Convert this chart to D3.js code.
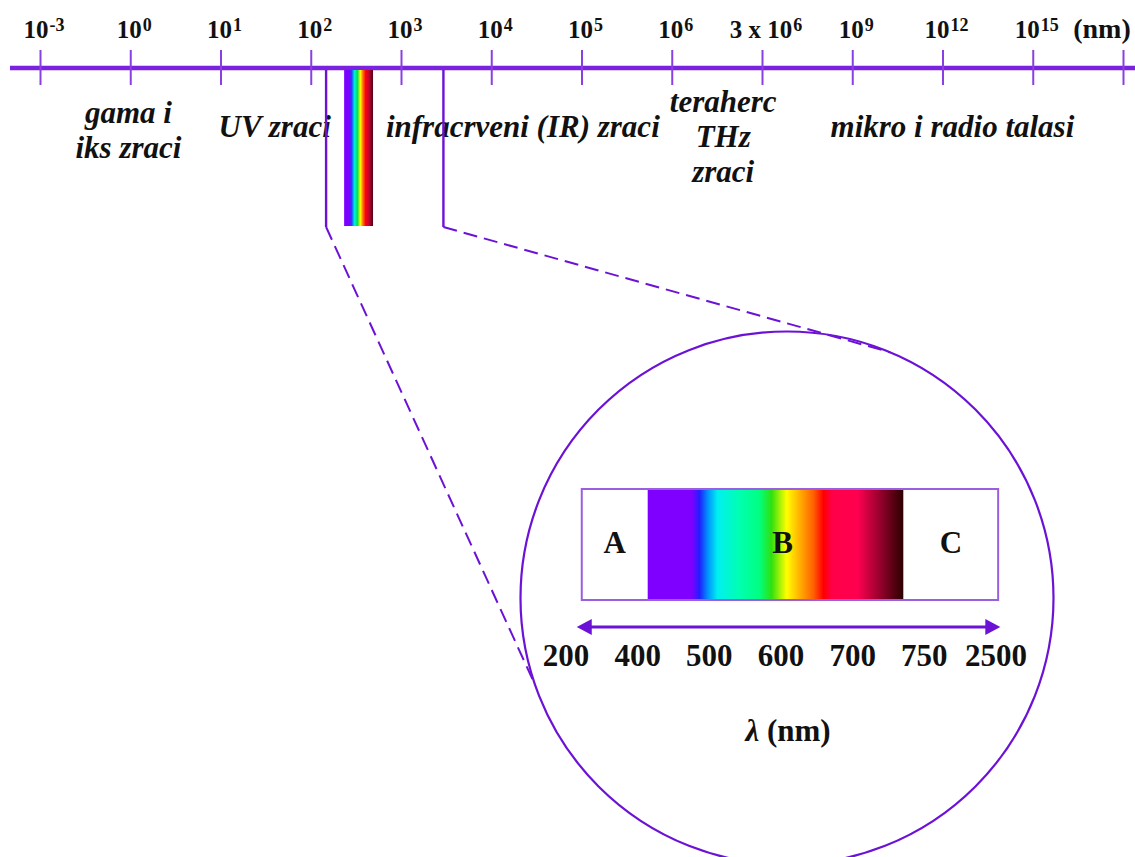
<!DOCTYPE html>
<html><head><meta charset="utf-8">
<script src="https://cdn.jsdelivr.net/npm/d3@7"></script>
<style>body{margin:0;background:#fff}svg{display:block}</style>
</head><body>
<script>
// ---- data ----
const tickBase = ["10","10","10","10","10","10","10","10","3 x 10","10","10","10",""];
const tickExp  = ["-3","0","1","2","3","4","5","6","6","9","12","15",""];
const unitLabel = "(nm)";
const bandNames = [["gama i","iks zraci"],["UV zraci"],["infracrveni (IR) zraci"],["teraherc","THz","zraci"],["mikro i radio talasi"]];
const bandCenters = [0.98, 2.6, 5.35, 7.57, 10.11];       // in tick-index units
const visibleRange = [3.17, 4.47];                          // bracket around the visible strip (tick-index units)
const stripRange = [3.37, 3.69];
const rainbowOffsets = [0, 0.18, 0.26, 0.36, 0.46, 0.56, 0.64, 0.74, 0.86, 1];
const rainbowColors  = ["#7a00ff","#7a00ff","#2040ff","#00f0d8","#00e050","#ffff00","#ff8000","#ff0010","#c00030","#500018"];
const lambdaLabels = ["200","400","500","600","700","750","2500"];
const regionNames = ["A","B","C"];
const regionBounds = [[0.22,1.14],[1.14,4.71],[4.71,6.03]]; // in lambda-label index units
const spectrumOffsets = [0, 0.172, 0.203, 0.234, 0.273, 0.36, 0.437, 0.484, 0.543, 0.594, 0.648, 0.687, 0.719, 0.82, 0.9, 1];
const spectrumColors  = ["#7f00ff","#7f00ff","#2020ff","#0090ff","#00f0f0","#00ffb0","#00ff80","#30e010","#ffff00","#ffb000","#ff6000","#ff0000","#ff0048","#ff0050","#a00030","#2a0000"];
const axisTitle = "(nm)";

// ---- drawing ----
const W = 1135, H = 857;
const purple = "#6c12d6";
const serif = "'Liberation Serif', 'DejaVu Serif', serif";
const svg = d3.select("body").append("svg").attr("width", W).attr("height", H);
const defs = svg.append("defs");

const axisY = 68;
const xTop = d3.scaleLinear().domain([0, 12]).range([40, 1123]);

// main axis line
svg.append("line").attr("x1", 10).attr("x2", W).attr("y1", axisY).attr("y2", axisY)
  .attr("stroke", "#7a22e0").attr("stroke-width", 4.5);

// ticks via d3 axis
const axisG = svg.append("g").attr("transform", `translate(0,${axisY})`)
  .call(d3.axisBottom(xTop).tickValues(d3.range(13)).tickSizeInner(17).tickSizeOuter(0).tickFormat(""));
axisG.select(".domain").remove();
axisG.selectAll(".tick line").attr("y1", -18).attr("y2", 17).attr("stroke", "#8a40e0").attr("stroke-width", 2);

// tick labels with superscripts
const lab = svg.append("g").attr("font-family", serif).attr("font-weight", "bold").attr("fill", "#111");
tickBase.forEach((b, i) => {
  if (!b) return;
  const t = lab.append("text").attr("x", xTop(i) + 4).attr("y", 38).attr("text-anchor", "middle").attr("font-size", 25);
  t.append("tspan").text(b);
  t.append("tspan").attr("font-size", 18).attr("dx", 1).attr("dy", -7).text(tickExp[i]);
});
lab.append("text").attr("x", 1102).attr("y", 38).attr("text-anchor", "middle").attr("font-size", 28).text(unitLabel);

// band names
const bandY = [[123, 158], [137], [137], [112, 147, 182], [137]];
const bl = svg.append("g").attr("font-family", serif).attr("font-weight", "bold").attr("font-style", "italic")
  .attr("font-size", 31).attr("fill", "#111").attr("text-anchor", "middle");
bandNames.forEach((lines, i) => {
  lines.forEach((s, j) => {
    bl.append("text").attr("x", xTop(bandCenters[i])).attr("y", bandY[i][j]).text(s);
  });
});

// rainbow strip
const rg = defs.append("linearGradient").attr("id", "rainbow").attr("x1", "0").attr("x2", "1").attr("y1", "0").attr("y2", "0");
rainbowOffsets.forEach((o, i) => rg.append("stop").attr("offset", o).attr("stop-color", rainbowColors[i]));
svg.append("rect").attr("x", xTop(stripRange[0])).attr("y", axisY + 2)
  .attr("width", xTop(stripRange[1]) - xTop(stripRange[0])).attr("height", 156)
  .attr("fill", "url(#rainbow)");

// circle (zoom)
const cx = 787, cy = 598, r = 266.5;
svg.append("circle").attr("cx", cx).attr("cy", cy).attr("r", r).attr("fill", "none")
  .attr("stroke", purple).attr("stroke-width", 2.2);

// bracket lines + dashed projections
const footY = 227;
const leftX = xTop(visibleRange[0]), rightX = xTop(visibleRange[1]);
[leftX, rightX].forEach(x => {
  svg.append("line").attr("x1", x).attr("x2", x).attr("y1", axisY + 2).attr("y2", footY)
    .attr("stroke", purple).attr("stroke-width", 2.4);
});
const angL = Math.asin((685 - cy) / r), angR = Math.acos((890 - cx) / r);
const pL = [cx - r * Math.cos(angL), 685];
const pR = [890, cy - r * Math.sin(angR)];
svg.append("line").attr("x1", leftX).attr("y1", footY).attr("x2", pL[0]).attr("y2", pL[1])
  .attr("stroke", purple).attr("stroke-width", 2).attr("stroke-dasharray", "14,7");
svg.append("line").attr("x1", rightX).attr("y1", footY).attr("x2", pR[0]).attr("y2", pR[1])
  .attr("stroke", purple).attr("stroke-width", 2).attr("stroke-dasharray", "14,7");

// spectrum box
const xL = d3.scalePoint().domain(lambdaLabels).range([566, 996]);
const xIdx = d3.scaleLinear().domain([0, lambdaLabels.length - 1]).range([566, 996]);
const boxTop = 489, boxH = 111;
const sg = defs.append("linearGradient").attr("id", "spectrum").attr("x1", "0").attr("x2", "1").attr("y1", "0").attr("y2", "0");
spectrumOffsets.forEach((o, i) => sg.append("stop").attr("offset", o).attr("stop-color", spectrumColors[i]));
regionBounds.forEach((b, i) => {
  svg.append("rect").attr("x", xIdx(b[0])).attr("y", boxTop).attr("width", xIdx(b[1]) - xIdx(b[0])).attr("height", boxH)
    .attr("fill", i === 1 ? "url(#spectrum)" : "#fff");
});
svg.append("rect").attr("x", xIdx(regionBounds[0][0])).attr("y", boxTop)
  .attr("width", xIdx(regionBounds[2][1]) - xIdx(regionBounds[0][0])).attr("height", boxH)
  .attr("fill", "none").attr("stroke", "#9a5ee0").attr("stroke-width", 2);
const rl = svg.append("g").attr("font-family", serif).attr("font-weight", "bold").attr("font-size", 31)
  .attr("fill", "#111").attr("text-anchor", "middle");
regionNames.forEach((n, i) => {
  const m = (xIdx(regionBounds[i][0]) + xIdx(regionBounds[i][1])) / 2 + (i === 1 ? 7 : 0);
  rl.append("text").attr("x", m).attr("y", 553).text(n);
});

// double arrow
const arrY = 627;
const aL = xIdx(0.15), aR = xIdx(6.06);
svg.append("line").attr("x1", aL + 12).attr("x2", aR - 12).attr("y1", arrY).attr("y2", arrY)
  .attr("stroke", purple).attr("stroke-width", 3);
svg.append("path").attr("d", `M${aL},${arrY} L${aL + 15},${arrY - 8} L${aL + 15},${arrY + 8} Z`).attr("fill", purple);
svg.append("path").attr("d", `M${aR},${arrY} L${aR - 15},${arrY - 8} L${aR - 15},${arrY + 8} Z`).attr("fill", purple);

// lambda labels
const ll = svg.append("g").attr("font-family", serif).attr("font-weight", "bold").attr("font-size", 31)
  .attr("fill", "#111").attr("text-anchor", "middle");
lambdaLabels.forEach(d => ll.append("text").attr("x", xL(d)).attr("y", 666).text(d));

const tt = ll.append("text").attr("x", 788).attr("y", 741);
tt.append("tspan").attr("font-style", "italic").text("λ");
tt.append("tspan").text(" " + axisTitle);
</script>
</body></html>
